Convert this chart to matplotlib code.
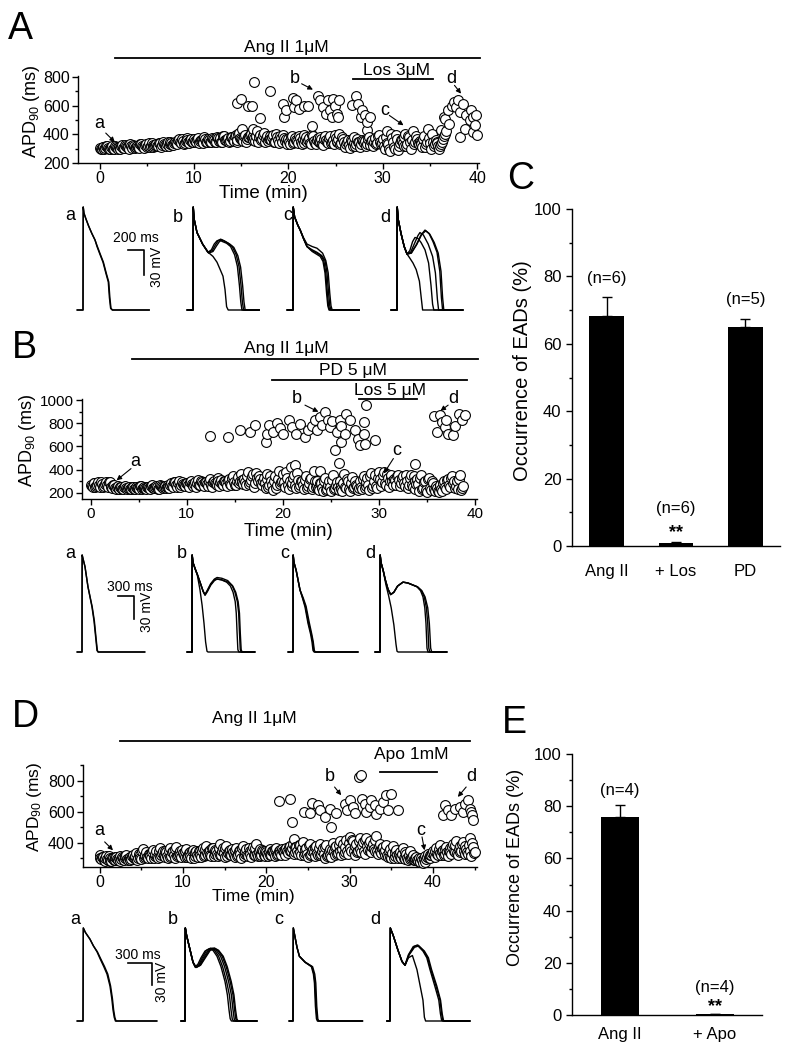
import matplotlib
matplotlib.use('Agg')
import matplotlib.pyplot as plt
from matplotlib.ticker import MultipleLocator

plt.rcParams['font.family'] = ['Liberation Sans', 'DejaVu Sans']
plt.rcParams['mathtext.fontset'] = 'custom'
plt.rcParams['mathtext.rm'] = 'Liberation Sans'
plt.rcParams['mathtext.it'] = 'Liberation Sans:italic'
plt.rcParams['mathtext.bf'] = 'Liberation Sans:bold'

# ---------------- data ----------------
# beat times (min) of the low-APD band, shared by the three recordings
beat_t = [
    0.0, 0.2, 0.4, 0.6, 0.8, 1.0, 1.2, 1.4, 1.6, 1.8,
    2.0, 2.2, 2.4, 2.6, 2.8, 3.0, 3.2, 3.4, 3.6, 3.8,
    4.0, 4.2, 4.4, 4.6, 4.8, 5.0, 5.2, 5.4, 5.6, 5.8,
    6.0, 6.2, 6.4, 6.6, 6.8, 7.0, 7.2, 7.4, 7.6, 7.8,
    8.0, 8.2, 8.4, 8.6, 8.8, 9.0, 9.2, 9.4, 9.6, 9.8,
    10.0, 10.2, 10.4, 10.6, 10.8, 11.0, 11.2, 11.4, 11.6, 11.8,
    12.0, 12.2, 12.4, 12.6, 12.8, 13.0, 13.2, 13.4, 13.6, 13.8,
    14.0, 14.2, 14.4, 14.6, 14.8, 15.0, 15.2, 15.4, 15.6, 15.8,
    16.0, 16.2, 16.4, 16.6, 16.8, 17.0, 17.2, 17.4, 17.6, 17.8,
    18.0, 18.2, 18.4, 18.6, 18.8, 19.0, 19.2, 19.4, 19.6, 19.8,
    20.0, 20.2, 20.4, 20.6, 20.8, 21.0, 21.2, 21.4, 21.6, 21.8,
    22.0, 22.2, 22.4, 22.6, 22.8, 23.0, 23.2, 23.4, 23.6, 23.8,
    24.0, 24.2, 24.4, 24.6, 24.8, 25.0, 25.2, 25.4, 25.6, 25.8,
    26.0, 26.2, 26.4, 26.6, 26.8, 27.0, 27.2, 27.4, 27.6, 27.8,
    28.0, 28.2, 28.4, 28.6, 28.8, 29.0, 29.2, 29.4, 29.6, 29.8,
    30.0, 30.2, 30.4, 30.6, 30.8, 31.0, 31.2, 31.4, 31.6, 31.8,
    32.0, 32.2, 32.4, 32.6, 32.8, 33.0, 33.2, 33.4, 33.6, 33.8,
    34.0, 34.2, 34.4, 34.6, 34.8, 35.0, 35.2, 35.4, 35.6, 35.8,
    36.0, 36.2, 36.4, 36.6, 36.8, 37.0, 37.2, 37.4, 37.6, 37.8,
    38.0, 38.2, 38.4, 38.6, 38.8, 39.0, 39.2, 39.4, 39.6, 39.8,
    40.0, 40.2, 40.4, 40.6, 40.8, 41.0, 41.2, 41.4, 41.6, 41.8,
    42.0, 42.2, 42.4, 42.6, 42.8, 43.0, 43.2, 43.4, 43.6, 43.8,
    44.0, 44.2, 44.4, 44.6, 44.8, 45.0,
]
# the beats in between
beat_t2 = [
    0.1, 0.3, 0.5, 0.7, 0.9, 1.1, 1.3, 1.5, 1.7, 1.9,
    2.1, 2.3, 2.5, 2.7, 2.9, 3.1, 3.3, 3.5, 3.7, 3.9,
    4.1, 4.3, 4.5, 4.7, 4.9, 5.1, 5.3, 5.5, 5.7, 5.9,
    6.1, 6.3, 6.5, 6.7, 6.9, 7.1, 7.3, 7.5, 7.7, 7.9,
    8.1, 8.3, 8.5, 8.7, 8.9, 9.1, 9.3, 9.5, 9.7, 9.9,
    10.1, 10.3, 10.5, 10.7, 10.9, 11.1, 11.3, 11.5, 11.7, 11.9,
    12.1, 12.3, 12.5, 12.7, 12.9, 13.1, 13.3, 13.5, 13.7, 13.9,
    14.1, 14.3, 14.5, 14.7, 14.9, 15.1, 15.3, 15.5, 15.7, 15.9,
    16.1, 16.3, 16.5, 16.7, 16.9, 17.1, 17.3, 17.5, 17.7, 17.9,
    18.1, 18.3, 18.5, 18.7, 18.9, 19.1, 19.3, 19.5, 19.7, 19.9,
    20.1, 20.3, 20.5, 20.7, 20.9, 21.1, 21.3, 21.5, 21.7, 21.9,
    22.1, 22.3, 22.5, 22.7, 22.9, 23.1, 23.3, 23.5, 23.7, 23.9,
    24.1, 24.3, 24.5, 24.7, 24.9, 25.1, 25.3, 25.5, 25.7, 25.9,
    26.1, 26.3, 26.5, 26.7, 26.9, 27.1, 27.3, 27.5, 27.7, 27.9,
    28.1, 28.3, 28.5, 28.7, 28.9, 29.1, 29.3, 29.5, 29.7, 29.9,
    30.1, 30.3, 30.5, 30.7, 30.9, 31.1, 31.3, 31.5, 31.7, 31.9,
    32.1, 32.3, 32.5, 32.7, 32.9, 33.1, 33.3, 33.5, 33.7, 33.9,
    34.1, 34.3, 34.5, 34.7, 34.9, 35.1, 35.3, 35.5, 35.7, 35.9,
    36.1, 36.3, 36.5, 36.7, 36.9, 37.1, 37.3, 37.5, 37.7, 37.9,
    38.1, 38.3, 38.5, 38.7, 38.9, 39.1, 39.3, 39.5, 39.7, 39.9,
    40.1, 40.3, 40.5, 40.7, 40.9, 41.1, 41.3, 41.5, 41.7, 41.9,
    42.1, 42.3, 42.5, 42.7, 42.9, 43.1, 43.3, 43.5, 43.7, 43.9,
    44.1, 44.3, 44.5, 44.7, 44.9,
]

# Panel A: APD90 (ms)
A_low_y = [
    305, 298, 315, 302, 320, 300, 310, 296, 318, 305,
    312, 300, 325, 308, 318, 315, 330, 305, 322, 312,
    320, 308, 335, 315, 325, 312, 338, 318, 328, 322,
    330, 318, 342, 325, 335, 320, 345, 330, 340, 328,
    350, 335, 365, 342, 355, 338, 372, 348, 360, 345,
    365, 345, 375, 352, 362, 340, 370, 350, 358, 348,
    368, 350, 380, 355, 372, 345, 385, 358, 375, 352,
    380, 355, 395, 362, 410, 370, 352, 392, 365, 380,
    400, 360, 372, 385, 350, 395, 368, 410, 375, 355,
    388, 362, 395, 350, 380, 340, 372, 392, 355, 345,
    370, 335, 385, 350, 362, 340, 375, 330, 395, 358,
    345, 372, 330, 385, 340, 362, 350, 378, 335, 370,
    360, 338, 385, 350, 330, 372, 355, 400, 340, 365,
    310, 345, 325, 360, 320, 378, 335, 350, 315, 362,
    340, 322, 368, 335, 355, 318, 372, 340, 395, 330,
    365, 300, 420, 330, 285, 375, 310, 395, 290, 340,
    360, 320, 405, 335, 380, 300, 420, 345, 365, 330,
    350, 310, 385, 330, 440, 340, 400, 320, 360, 340,
    300, 330, 370, 400,
]
A_low2_y = [
    300, 312, 295, 318, 305, 298, 322, 300, 310, 295,
    305, 318, 302, 328, 310, 300, 318, 325, 306, 315,
    312, 330, 318, 305, 332, 320, 310, 340, 315, 325,
    322, 338, 315, 345, 328, 335, 318, 350, 325, 338,
    340, 358, 345, 368, 335, 352, 362, 340, 370, 350,
    352, 370, 340, 362, 355, 378, 345, 365, 350, 372,
    358, 345, 375, 362, 350, 388, 360, 370, 348, 380,
    362, 385, 350, 400, 372, 358, 390, 345, 378, 395,
    372, 390, 355, 420, 380, 362, 398, 350, 385, 370,
    365, 380, 348, 400, 360, 390, 350, 375, 365, 335,
    350, 380, 340, 372, 355, 390, 345, 365, 340, 380,
    360, 340, 395, 352, 330, 375, 345, 365, 325, 385,
    350, 372, 340, 360, 395, 345, 368, 330, 378, 350,
    330, 360, 305, 352, 340, 320, 365, 345, 330, 355,
    355, 335, 380, 325, 362, 345, 330, 385, 350, 340,
    320, 380, 340, 300, 400, 350, 300, 370, 320, 360,
    340, 380, 320, 390, 350, 360, 330, 390, 340, 355,
    330, 370, 315, 345, 375, 300, 350, 330, 345, 320,
    320, 350, 390, 420,
]
A_hi_t = [14.6, 15.0, 15.7, 16.1, 16.4, 17.0, 16.3, 15.1, 18.1, 19.4,
          19.7, 19.5, 20.5, 20.6, 20.8, 21.1, 21.7, 22.1, 22.5, 23.1,
          23.3, 23.7, 24.0, 24.2, 24.4, 24.6, 24.7, 24.9, 25.2, 25.4,
          25.3, 26.7, 27.2, 27.4, 27.8, 28.1, 28.3, 28.3, 28.7, 27.7,
          36.2, 36.6, 36.9, 37.3, 37.5, 37.8, 38.0, 38.2, 38.5, 38.8,
          38.7, 38.2, 39.2, 39.4, 39.6, 39.8, 39.9, 40.0, 39.6, 37.0, 36.5]
A_hi_y = [619, 646, 595, 595, 765, 516, 440, 440, 702, 609,
          572, 521, 656, 591, 637, 579, 598, 595, 456, 670,
          637, 591, 544, 637, 568, 521, 649, 595, 544, 637,
          521, 602, 665, 614, 567, 533, 486, 428, 521, 521,
          430, 509, 567, 595, 626, 591, 637, 556, 614, 533,
          440, 381, 498, 567, 521, 463, 533, 393, 416, 470, 520]

# Panel B
B_low_y = [
    265, 250, 285, 258, 290, 245, 272, 260, 288, 252,
    295, 240, 270, 232, 255, 228, 248, 235, 258, 230,
    245, 228, 252, 235, 240, 230, 258, 238, 248, 232,
    250, 235, 262, 240, 255, 232, 265, 245, 250, 238,
    265, 242, 280, 250, 290, 248, 305, 262, 275, 255,
    285, 250, 300, 262, 278, 245, 310, 268, 292, 255,
    295, 260, 318, 248, 305, 275, 330, 258, 312, 270,
    300, 255, 320, 270, 345, 262, 305, 280, 360, 290,
    320, 262, 380, 290, 340, 252, 370, 300, 315, 270,
    330, 240, 360, 270, 300, 225, 345, 265, 385, 290,
    360, 250, 330, 230, 420, 280, 350, 238, 310, 265,
    300, 228, 345, 260, 320, 235, 390, 250, 300, 220,
    280, 210, 325, 235, 305, 215, 350, 240, 290, 222,
    260, 215, 360, 240, 300, 218, 335, 250, 270, 225,
    300, 230, 345, 255, 330, 220, 370, 260, 355, 240,
    375, 260, 350, 280, 365, 250, 340, 300, 320, 268,
    355, 255, 330, 280, 350, 240, 325, 265, 345, 230,
    320, 215, 350, 240, 300, 205, 330, 225, 280, 210,
    240, 205, 270, 215, 300, 230, 320, 250, 345, 300, 260, 230, 350, 240,
]
B_low2_y = [
    255, 280, 245, 270, 262, 295, 250, 275, 265, 290,
    248, 265, 238, 250, 235, 245, 230, 252, 238, 242,
    235, 250, 230, 245, 238, 255, 232, 242, 236, 250,
    242, 255, 238, 250, 245, 235, 255, 242, 258, 245,
    252, 270, 258, 295, 262, 280, 250, 290, 268, 282,
    262, 290, 272, 255, 295, 280, 262, 300, 275, 290,
    272, 300, 265, 290, 285, 262, 305, 290, 278, 300,
    285, 310, 275, 330, 290, 270, 335, 300, 310, 275,
    295, 340, 275, 310, 360, 285, 325, 345, 280, 300,
    280, 315, 250, 340, 265, 300, 240, 320, 275, 305,
    290, 380, 265, 300, 255, 325, 270, 370, 250, 300,
    270, 310, 240, 285, 330, 250, 300, 265, 235, 280,
    240, 300, 225, 270, 250, 310, 228, 265, 245, 300,
    230, 280, 250, 320, 235, 285, 240, 300, 260, 240,
    250, 320, 240, 295, 265, 345, 240, 300, 255, 330,
    320, 290, 380, 270, 330, 300, 355, 270, 310, 345,
    310, 280, 340, 260, 300, 270, 355, 245, 300, 275,
    275, 330, 230, 290, 220, 315, 240, 300, 230, 255,
    215, 255, 230, 285, 245, 310, 265, 330, 280, 240, 300, 320, 225, 260,
]
B_hi_t = [12.4, 14.3, 15.5, 16.6, 17.1, 18.2, 18.3, 18.6, 19.0, 19.4,
          19.7, 20.0, 20.6, 21.0, 21.4, 21.8, 22.3, 22.6, 23.0, 23.3,
          23.5, 23.9, 24.1, 24.4, 24.7, 24.9, 25.1, 25.4, 25.6, 25.9,
          26.1, 26.5, 26.6, 27.0, 26.0, 27.5, 27.8, 28.0, 28.4, 28.4,
          28.7, 28.5, 29.6, 35.7, 36.0, 36.4, 36.6, 36.9, 37.2, 37.7,
          37.9, 38.3, 38.6, 38.9, 37.0, 25.8, 33.8, 21.3, 23.9]
B_hi_y = [688, 677, 740, 726, 783, 639, 703, 783, 726, 804,
          760, 711, 827, 769, 705, 792, 682, 740, 775, 827,
          740, 856, 783, 899, 827, 769, 818, 567, 726, 827,
          775, 705, 879, 827, 639, 746, 668, 610, 812, 711,
          957, 624, 653, 864, 726, 870, 812, 769, 711, 697,
          778, 879, 827, 870, 827, 460, 451, 437, 388]

# Panel D
D_low_y = [
    320, 295, 310, 285, 318, 292, 305, 282, 300, 290,
    310, 288, 318, 295, 305, 300, 322, 292, 312, 298,
    325, 300, 335, 305, 320, 298, 360, 310, 340, 305,
    330, 302, 355, 315, 345, 300, 365, 320, 350, 310,
    340, 305, 365, 318, 350, 300, 375, 320, 345, 310,
    335, 308, 360, 318, 340, 305, 355, 315, 348, 312,
    345, 310, 365, 320, 380, 325, 355, 315, 370, 330,
    350, 318, 395, 325, 365, 310, 380, 335, 355, 320,
    340, 312, 370, 325, 355, 305, 380, 330, 360, 318,
    345, 310, 375, 320, 395, 315, 360, 325, 350, 318,
    340, 315, 360, 325, 350, 318, 370, 330, 355, 320,
    345, 325, 365, 335, 380, 350, 395, 340, 375, 330,
    390, 320, 405, 335, 370, 310, 395, 330, 360, 315,
    380, 320, 395, 330, 370, 305, 385, 325, 360, 310,
    400, 320, 380, 335, 410, 325, 395, 340, 420, 330,
    440, 345, 410, 325, 395, 350, 430, 340, 405, 330,
    430, 355, 415, 340, 395, 345, 445, 330, 395, 335,
    375, 320, 390, 310, 360, 300, 380, 315, 355, 305,
    340, 300, 365, 295, 330, 290, 350, 300, 325, 292,
    310, 285, 280, 300, 270, 315, 295, 330, 305, 320,
    345, 310, 365, 325, 390, 320, 355, 330, 375, 315,
    365, 330, 395, 340, 410, 320, 380, 345, 405, 330,
    360, 330, 430, 315, 375, 340,
]
D_low2_y = [
    300, 310, 288, 305, 295, 315, 285, 300, 292, 308,
    295, 305, 285, 310, 292, 315, 298, 305, 290, 318,
    305, 318, 292, 330, 302, 345, 300, 325, 312, 330,
    315, 340, 305, 330, 312, 350, 308, 335, 318, 345,
    318, 350, 310, 340, 325, 360, 315, 335, 320, 355,
    320, 345, 312, 338, 318, 350, 305, 340, 322, 345,
    325, 350, 315, 360, 335, 345, 322, 368, 318, 355,
    330, 365, 320, 345, 335, 370, 318, 350, 325, 360,
    325, 355, 318, 345, 330, 365, 315, 345, 325, 370,
    330, 355, 320, 365, 330, 345, 318, 355, 325, 345,
    328, 350, 320, 345, 335, 360, 322, 350, 335, 360,
    340, 360, 350, 375, 345, 365, 330, 372, 350, 390,
    340, 370, 325, 360, 330, 385, 320, 350, 340, 375,
    335, 365, 320, 350, 330, 372, 315, 345, 325, 355,
    345, 372, 330, 390, 345, 360, 330, 375, 350, 400,
    370, 420, 350, 380, 340, 410, 360, 385, 350, 420,
    380, 400, 350, 375, 360, 420, 345, 380, 350, 370,
    340, 355, 320, 345, 310, 335, 300, 340, 320, 330,
    310, 330, 300, 340, 305, 320, 295, 310, 290, 305,
    290, 300, 275, 290, 305, 280, 310, 300, 320, 335,
    320, 350, 330, 360, 335, 345, 325, 360, 340, 350,
    340, 375, 350, 385, 335, 360, 340, 395, 350, 380,
    340, 385, 345, 400, 335,
]
D_hi_t = [21.5, 22.8, 23.1, 24.5, 25.2, 25.5, 26.2, 26.5, 27.0, 27.6,
          27.8, 28.4, 29.4, 29.7, 30.0, 30.4, 30.6, 31.1, 31.4, 31.5,
          31.8, 32.0, 32.4, 32.6, 33.0, 33.2, 33.6, 34.0, 34.4, 34.6,
          35.0, 35.8, 41.2, 41.4, 41.8, 42.2, 42.6, 43.2, 43.8, 43.6,
          44.2, 44.4, 44.6, 44.8, 44.7, 23.3]
D_hi_y = [669, 686, 536, 600, 594, 660, 643, 611, 568, 622,
          503, 594, 649, 611, 675, 632, 594, 826, 837, 686,
          654, 600, 632, 675, 643, 589, 622, 665, 708, 611,
          718, 611, 579, 643, 611, 579, 622, 632, 654, 600,
          675, 622, 600, 546, 578, 428]

# drug application periods (min)
A_angii = [1.6, 40.3]
A_los = [26.8, 35.3]
B_angii = [4.3, 40.3]
B_pd = [18.9, 39.2]
B_los = [27.9, 34.0]
D_angii = [2.5, 44.5]
D_apo = [33.7, 40.5]

# EAD occurrence (%)
C_labels = ['Ang II', '+ Los', 'PD']
C_vals = [68.2, 0.8, 65.0]
C_err = [5.8, 0.3, 2.5]
C_n = ['(n=6)', '(n=6)', '(n=5)']
C_sig = ['', '**', '']
E_labels = ['Ang II', '+ Apo']
E_vals = [76.0, 0.3]
E_err = [4.5, 0.2]
E_n = ['(n=4)', '(n=4)']
E_sig = ['', '**']

# action potentials: (time from upstroke in ms, membrane potential in mV)
ap_A_a = [
    ([-75, 0, 3, 12, 35, 70, 110, 150, 175, 210, 250, 285, 316, 330, 345, 365, 830],
     [-85, -85, 40, 32, 26, 17, 8, 0, -8, -17, -27, -40, -51, -70, -83, -85, -85]),
    ([-75, 0, 3, 12, 35, 70, 110, 150, 180, 215, 255, 290, 322, 336, 350, 370, 830],
     [-85, -85, 40, 33, 26, 17, 8, 0, -8, -17, -27, -40, -51, -70, -83, -85, -85]),
]
ap_A_b = [
    ([-75, 0, 3, 15, 50, 120, 190, 250, 300, 340, 375, 400, 420, 440, 830],
     [-85, -85, 40, 25, 9, -5, -15, -20, -27, -36, -44, -60, -81, -85, -85]),
    ([-75, 0, 3, 15, 50, 120, 185, 230, 265, 300, 330, 370, 420, 470, 520, 555, 580, 597, 612, 830],
     [-85, -85, 40, 25, 9, -5, -15, -12, -5, -1, 0, -2, -4, -8, -18, -32, -55, -75, -85, -85]),
    ([-75, 0, 3, 15, 50, 120, 190, 240, 280, 315, 345, 390, 440, 490, 540, 575, 600, 617, 632, 830],
     [-85, -85, 40, 25, 9, -5, -15, -13, -6, -1, 1, -1, -4, -8, -18, -32, -55, -75, -85, -85]),
    ([-75, 0, 3, 15, 50, 120, 195, 250, 295, 330, 360, 405, 460, 510, 560, 595, 620, 637, 652, 830],
     [-85, -85, 40, 25, 9, -5, -16, -14, -7, -2, 0, -2, -5, -9, -19, -33, -55, -75, -85, -85]),
]
ap_A_c = [
    ([-75, 0, 3, 20, 60, 90, 130, 175, 240, 300, 350, 385, 410, 430, 445, 460, 830],
     [-85, -85, 40, 28, 18, 12, 2, -8, -13, -16, -19, -25, -40, -65, -80, -85, -85]),
    ([-75, 0, 3, 20, 60, 90, 130, 175, 240, 300, 360, 400, 425, 445, 460, 475, 830],
     [-85, -85, 40, 28, 18, 12, 2, -8, -12, -15, -19, -25, -40, -65, -80, -85, -85]),
    ([-75, 0, 3, 20, 60, 90, 130, 175, 240, 300, 370, 410, 440, 460, 475, 490, 830],
     [-85, -85, 40, 28, 18, 12, 3, -5, -8, -10, -16, -25, -40, -65, -80, -85, -85]),
    ([-75, 0, 3, 20, 60, 90, 130, 175, 240, 290, 340, 375, 400, 420, 435, 450, 830],
     [-85, -85, 40, 28, 18, 12, 2, -8, -14, -17, -20, -26, -40, -65, -80, -85, -85]),
]
ap_A_d = [
    ([-75, 0, 3, 15, 50, 90, 125, 160, 200, 240, 280, 305, 320, 825],
     [-85, -85, 40, 25, 8, -8, -17, -22, -28, -36, -50, -72, -85, -85]),
    ([-75, 0, 3, 15, 50, 90, 125, 160, 195, 225, 260, 300, 350, 395, 425, 445, 460, 825],
     [-85, -85, 40, 25, 8, -8, -17, -13, -2, 3, 2, -3, -12, -28, -55, -78, -85, -85]),
    ([-75, 0, 3, 15, 50, 90, 125, 170, 220, 260, 287, 330, 390, 445, 480, 505, 520, 825],
     [-85, -85, 40, 25, 8, -8, -17, -15, -4, 5, 9, 6, -5, -20, -40, -72, -85, -85]),
    ([-75, 0, 3, 15, 50, 90, 125, 175, 240, 300, 350, 400, 450, 500, 535, 555, 570, 825],
     [-85, -85, 40, 25, 8, -8, -17, -16, -6, 6, 12, 8, -2, -15, -38, -70, -85, -85]),
    ([-75, 0, 3, 15, 50, 90, 125, 180, 250, 310, 360, 410, 465, 515, 550, 570, 585, 825],
     [-85, -85, 40, 25, 8, -8, -17, -16, -5, 7, 11, 7, -3, -16, -38, -70, -85, -85]),
]
ap_B_a = [
    ([-94, 0, 3, 20, 56, 112, 187, 225, 262, 281, 300, 1180],
     [-85, -85, 40, 35, 25, -1, -27, -45, -70, -83, -85, -85]),
    ([-94, 0, 3, 20, 56, 112, 192, 232, 268, 288, 306, 1180],
     [-85, -85, 40, 35, 25, -1, -27, -45, -70, -83, -85, -85]),
]
ap_B_b = [
    ([-94, 0, 3, 20, 60, 100, 150, 190, 225, 255, 281, 300, 1180],
     [-85, -85, 40, 30, 22, 14, -5, -25, -48, -72, -84, -85, -85]),
    ([-94, 0, 3, 20, 60, 100, 160, 210, 244, 290, 350, 420, 470, 550, 650, 720, 770, 810, 830, 845, 860, 880, 1180],
     [-85, -85, 40, 30, 22, 15, 3, -7, -11, -6, 2, 8, 9, 8, 5, 0, -8, -20, -35, -60, -82, -85, -85]),
    ([-94, 0, 3, 20, 60, 100, 160, 210, 244, 290, 350, 420, 470, 560, 670, 750, 805, 850, 875, 890, 905, 925, 1180],
     [-85, -85, 40, 30, 22, 15, 3, -7, -11, -5, 3, 9, 11, 10, 7, 1, -8, -20, -35, -60, -82, -85, -85]),
    ([-94, 0, 3, 20, 60, 100, 160, 210, 244, 290, 350, 420, 470, 560, 680, 765, 820, 865, 890, 905, 922, 940, 1180],
     [-85, -85, 40, 30, 22, 15, 3, -7, -12, -7, 1, 7, 9, 8, 5, 0, -8, -20, -35, -60, -82, -85, -85]),
]
ap_B_c = [
    ([-94, 0, 3, 20, 60, 131, 180, 225, 281, 330, 356, 375, 395, 1220],
     [-85, -85, 40, 30, 20, -5, -16, -27, -48, -62, -72, -83, -85, -85]),
    ([-94, 0, 3, 20, 60, 131, 185, 235, 292, 342, 370, 390, 410, 1220],
     [-85, -85, 40, 30, 20, -5, -16, -27, -48, -62, -72, -83, -85, -85]),
    ([-94, 0, 3, 20, 60, 131, 190, 245, 305, 352, 380, 400, 420, 1220],
     [-85, -85, 40, 30, 20, -5, -15, -26, -47, -62, -72, -83, -85, -85]),
]
ap_B_d = [
    ([-94, 0, 3, 20, 60, 110, 160, 210, 260, 300, 319, 340, 1255],
     [-85, -85, 40, 30, 20, 2, -12, -28, -50, -75, -84, -85, -85]),
    ([-94, 0, 3, 20, 60, 100, 150, 200, 260, 330, 431, 520, 694, 760, 806, 840, 862, 881, 900, 1255],
     [-85, -85, 40, 30, 20, 8, -4, -11, -8, 0, 5, 4, -1, -6, -14, -28, -48, -80, -85, -85]),
    ([-94, 0, 3, 20, 60, 100, 150, 200, 260, 330, 431, 520, 700, 775, 830, 870, 895, 915, 935, 1255],
     [-85, -85, 40, 30, 20, 8, -4, -11, -8, 0, 5, 4, -1, -6, -14, -28, -48, -80, -85, -85]),
    ([-94, 0, 3, 20, 60, 100, 150, 200, 260, 330, 431, 520, 705, 785, 845, 895, 925, 950, 970, 1255],
     [-85, -85, 40, 30, 20, 8, -4, -11, -8, 0, 5, 4, -1, -6, -14, -28, -48, -80, -85, -85]),
]
ap_D_a = [
    ([-75, 0, 4, 30, 87, 130, 175, 212, 260, 300, 337, 360, 375, 390, 405, 925],
     [-85, -85, 40, 34, 25, 16, 8, -1, -12, -22, -38, -55, -70, -80, -85, -85]),
    ([-75, 0, 4, 30, 87, 130, 180, 220, 270, 310, 345, 368, 383, 398, 413, 925],
     [-85, -85, 40, 34, 25, 16, 8, -1, -12, -22, -38, -55, -70, -80, -85, -85]),
]
ap_D_b = [
    ([-50, 0, 4, 20, 60, 100, 125, 160, 200, 250, 300, 350, 400, 450, 500, 530, 550, 565, 580, 900],
     [-85, -85, 40, 30, 12, -6, -12, -9, 0, 9, 12, 10, 2, -12, -32, -50, -70, -82, -85, -85]),
    ([-50, 0, 4, 20, 60, 100, 130, 170, 215, 270, 320, 370, 420, 470, 520, 555, 575, 590, 605, 900],
     [-85, -85, 40, 30, 12, -6, -13, -10, 0, 10, 13, 10, 2, -12, -32, -50, -70, -82, -85, -85]),
    ([-50, 0, 4, 20, 60, 100, 135, 180, 230, 290, 340, 390, 445, 495, 545, 580, 600, 615, 630, 900],
     [-85, -85, 40, 30, 12, -6, -13, -10, 0, 10, 13, 10, 2, -12, -32, -50, -70, -82, -85, -85]),
    ([-50, 0, 4, 20, 60, 100, 140, 190, 245, 305, 360, 410, 465, 515, 565, 600, 620, 635, 650, 900],
     [-85, -85, 40, 30, 12, -6, -13, -10, 0, 10, 13, 10, 2, -12, -32, -50, -70, -82, -85, -85]),
    ([-50, 0, 4, 20, 60, 100, 140, 195, 255, 315, 370, 420, 478, 528, 578, 612, 632, 648, 663, 900],
     [-85, -85, 40, 30, 12, -6, -13, -10, 0, 10, 13, 10, 2, -12, -32, -50, -70, -82, -85, -85]),
]
ap_D_c = [
    ([-50, 0, 4, 25, 50, 80, 150, 237, 262, 275, 287, 300, 312, 870],
     [-85, -85, 40, 28, 14, 2, -6, -12, -22, -34, -65, -82, -85, -85]),
    ([-50, 0, 4, 25, 50, 80, 155, 245, 272, 285, 297, 310, 322, 870],
     [-85, -85, 40, 28, 14, 2, -6, -12, -22, -34, -65, -82, -85, -85]),
    ([-50, 0, 4, 25, 50, 80, 150, 230, 255, 268, 280, 293, 305, 870],
     [-85, -85, 40, 28, 14, 2, -6, -12, -22, -34, -65, -82, -85, -85]),
]
ap_D_d = [
    ([-40, 0, 4, 40, 100, 150, 187, 230, 280, 337, 390, 412, 430, 445, 1000],
     [-85, -85, 40, 30, 10, -5, -10, 0, 3, -16, -45, -57, -80, -85, -85]),
    ([-40, 0, 4, 40, 100, 150, 187, 230, 290, 340, 412, 460, 500, 560, 610, 630, 645, 660, 1000],
     [-85, -85, 40, 30, 10, -5, -10, 4, 15, 17, 9, 0, -16, -38, -57, -75, -84, -85, -85]),
    ([-40, 0, 4, 40, 100, 150, 187, 235, 300, 350, 420, 470, 510, 575, 625, 645, 660, 675, 1000],
     [-85, -85, 40, 30, 10, -5, -10, 4, 15, 17, 9, 0, -16, -38, -57, -75, -84, -85, -85]),
    ([-40, 0, 4, 40, 100, 150, 190, 240, 305, 360, 430, 480, 520, 585, 632, 652, 668, 683, 1000],
     [-85, -85, 40, 30, 10, -5, -10, 4, 14, 16, 9, 0, -16, -38, -57, -75, -84, -85, -85]),
]

# ---------------- figure ----------------
W, H = 788, 1050
fig = plt.figure(figsize=(W / 100, H / 100), dpi=100)


def px_axes(l, t, r, b):
    return fig.add_axes([l / W, 1 - b / H, (r - l) / W, (b - t) / H])


def fig_text(x, y, s, **kw):
    fig.text(x / W, 1 - y / H, s, **kw)


def scatter_panel(ax, low_y, low2_y, hi_t, hi_y, xlim, ylim, yticks, tsize):
    pts = sorted(list(zip(beat_t, low_y)) + list(zip(beat_t2, low2_y)) +
                 list(zip(hi_t, hi_y)))
    ax.scatter([p[0] for p in pts], [p[1] for p in pts], s=50, facecolors='white',
               edgecolors='k', linewidths=0.8, zorder=3, clip_on=False)
    ax.set_xlim(*xlim)
    ax.set_ylim(*ylim)
    ax.set_yticks(yticks)
    ax.set_xticks([0, 10, 20, 30, 40])
    ax.xaxis.set_minor_locator(MultipleLocator(5))
    ax.yaxis.set_minor_locator(MultipleLocator(100))
    for sk in ['top', 'right']:
        ax.spines[sk].set_visible(False)
    for sk in ['left', 'bottom']:
        ax.spines[sk].set_linewidth(1.0)
    ax.tick_params(which='both', direction='out', width=1.0, labelsize=tsize, pad=2)
    ax.tick_params(which='major', length=4)
    ax.tick_params(which='minor', length=2.5)


def drug_bar(ax, span, yfrac, label, tx, ty):
    ax.plot(span, [yfrac, yfrac], color='k', lw=1.3, transform=ax.get_xaxis_transform(),
            clip_on=False)
    ax.text(tx, ty, label, transform=ax.get_xaxis_transform(), ha='center', va='center',
            fontsize=12.5)


def mark(ax, letter, txy, tail, head):
    ax.text(txy[0], txy[1], letter, ha='center', va='center', fontsize=13)
    ax.annotate('', xy=head, xytext=tail,
                arrowprops=dict(arrowstyle='-|>', color='k', lw=0.8, mutation_scale=7,
                                shrinkA=0, shrinkB=0))


def trace_row(box, ms_per_px, base_px, peak_px, offsets, groups, labels, bar):
    l, t, r, b = box
    mv_per_px = 125 / (base_px - peak_px)
    ax = px_axes(l, t, r, b)
    ax.set_xlim(0, (r - l) * ms_per_px)
    ax.set_ylim(-85 - (b - base_px) * mv_per_px, 40 + (peak_px - t) * mv_per_px)
    ax.axis('off')
    for off, grp in zip(offsets, groups):
        for tt, vv in grp:
            ax.plot([x + off for x in tt], vv, color='k', lw=1.0,
                    solid_joinstyle='round', solid_capstyle='round')
    for lab, (x, y) in zip('abcd', labels):
        fig_text(x, y, lab, ha='center', va='center', fontsize=13)
    # scale bar: corner (ms, mV), length (ms), text and positions
    cx, cy, dur, tlab, tpos, vpos = bar
    ax.plot([cx - dur, cx, cx], [cy, cy, cy - 30], color='k', lw=1.2)
    ax.text(tpos[0], tpos[1], tlab, ha='center', va='center', fontsize=10)
    ax.text(vpos[0], vpos[1], '30 mV', ha='center', va='center', fontsize=10,
            rotation=90)
    return ax


def bar_panel(ax, labels, vals, err, nlab, sig, xlim, width, pad):
    x = [i + 0.5 for i in range(len(vals))]
    ax.bar(x, vals, width=width, color='k', zorder=2)
    ax.errorbar(x, vals, yerr=[[0] * len(vals), err], fmt='none', ecolor='k',
                elinewidth=1.0, capsize=3.5, capthick=1.0, zorder=3)
    for xi, v, e, n, s in zip(x, vals, err, nlab, sig):
        top = v + e
        if s:
            ax.text(xi, top + 2.8, s, ha='center', va='center', fontsize=13,
                    fontweight='bold')
            ax.text(xi, top + 10, n, ha='center', va='center', fontsize=12)
        else:
            ax.text(xi, top + 5.5, n, ha='center', va='center', fontsize=12)
    ax.set_xlim(*xlim)
    ax.set_ylim(0, 100)
    ax.set_yticks([0, 20, 40, 60, 80, 100])
    ax.yaxis.set_minor_locator(MultipleLocator(10))
    ax.set_xticks(x, labels)
    for sk in ['top', 'right']:
        ax.spines[sk].set_visible(False)
    for sk in ['left', 'bottom']:
        ax.spines[sk].set_linewidth(1.0)
    ax.tick_params(axis='y', which='both', direction='out', width=1.0, labelsize=12)
    ax.tick_params(axis='y', which='major', length=4)
    ax.tick_params(axis='y', which='minor', length=2.5)
    ax.tick_params(axis='x', length=0, labelsize=12, pad=pad)


apd_label = r'APD$_{90}$ (ms)'

# ---- Panel A ----
axA = px_axes(78, 75.6, 479, 163)
scatter_panel(axA, A_low_y, A_low2_y, A_hi_t, A_hi_y, (-2.3, 40.2), (200, 810),
              [200, 400, 600, 800], 11.5)
drug_bar(axA, A_angii, 1.201, 'Ang II 1\u03bcM', 19.8, 1.327)
drug_bar(axA, A_los, 0.961, 'Los 3\u03bcM', 31.5, 1.053)
mark(axA, 'a', (0.0, 474), (0.64, 409), (1.6, 346))
mark(axA, 'b', (20.7, 788), (21.4, 753), (22.6, 712))
mark(axA, 'c', (30.2, 567), (30.7, 532), (32.2, 463))
mark(axA, 'd', (37.3, 788), (37.6, 742), (38.3, 684))
fig_text(32, 111, apd_label, rotation=90, ha='center', va='center', fontsize=13)
fig_text(263, 193, 'Time (min)', ha='center', va='center', fontsize=13.5)

trace_row((60, 195, 480, 320), 12.5, 310, 207, [287.5, 1662.5, 2912.5, 4212.5],
          [ap_A_a, ap_A_b, ap_A_c, ap_A_d],
          [(70, 216), (178, 217), (288, 216), (385, 217)],
          (1050, -12, 200, '200 ms', (950, 2.4), (1212, -32.8)))

# ---- Panel B ----
axB = px_axes(82, 399, 477, 499)
scatter_panel(axB, B_low_y, B_low2_y, B_hi_t, B_hi_y, (-0.9, 40.2), (145, 1010),
              [200, 400, 600, 800, 1000], 11)
drug_bar(axB, B_angii, 1.40, 'Ang II 1\u03bcM', 20.4, 1.50)
drug_bar(axB, B_pd, 1.19, 'PD 5 \u03bcM', 27.3, 1.29)
drug_bar(axB, B_los, 1.00, 'Los 5 \u03bcM', 31.1, 1.08)
mark(axB, 'a', (4.6, 466), (4.2, 408), (2.7, 307))
mark(axB, 'b', (21.4, 1014), (22.3, 957), (23.7, 899))
mark(axB, 'c', (31.8, 567), (31.5, 495), (30.5, 365))
mark(axB, 'd', (37.7, 1014), (37.2, 957), (36.4, 908))
fig_text(27, 440, apd_label, rotation=90, ha='center', va='center', fontsize=13)
fig_text(288, 532, 'Time (min)', ha='center', va='center', fontsize=13.5)

trace_row((60, 540, 480, 665), 18.75, 652, 555, [412.5, 2475, 4368.75, 6000],
          [ap_B_a, ap_B_b, ap_B_c, ap_B_d],
          [(70, 553), (182, 553), (285, 554), (370, 553)],
          (1387.5, -12.8, 300, '300 ms', (1312, -1.2), (1631, -33.4)))

# ---- Panel D ----
axD = px_axes(83, 765, 477, 867)
scatter_panel(axD, D_low_y, D_low2_y, D_hi_t, D_hi_y, (-2.0, 45.3), (245, 903),
              [400, 600, 800], 11.5)
drug_bar(axD, D_angii, 1.235, 'Ang II 1\u03bcM', 18.6, 1.46)
drug_bar(axD, D_apo, 0.93, 'Apo 1mM', 37.4, 1.10)
mark(axD, 'a', (0.0, 482), (0.6, 407), (1.6, 353))
mark(axD, 'b', (27.6, 826), (28.2, 761), (29.0, 708))
mark(axD, 'c', (38.6, 482), (38.7, 439), (39.0, 353))
mark(axD, 'd', (44.6, 826), (44.0, 761), (43.0, 697))
fig_text(35, 807, apd_label, rotation=90, ha='center', va='center', fontsize=12.5)
fig_text(253, 896, 'Time (min)', ha='center', va='center', fontsize=12.5)

trace_row((60, 910, 480, 1035), 12.5, 1021, 928, [287.5, 1562.5, 2912.5, 4125],
          [ap_D_a, ap_D_b, ap_D_c, ap_D_d],
          [(75, 920), (173, 920), (279, 920), (375, 920)],
          (1150, -7, 300, '300 ms', (975, 3.7), (1275, -32.6)))

# ---- Panel C ----
axC = px_axes(572, 209, 780, 546)
bar_panel(axC, C_labels, C_vals, C_err, C_n, C_sig, (0, 3.0), 0.5, 13)
fig_text(523, 371, 'Occurrence of EADs (%)', rotation=90, ha='center', va='center',
         fontsize=14.5)

# ---- Panel E ----
axE = px_axes(572, 754, 762, 1015)
bar_panel(axE, E_labels, E_vals, E_err, E_n, E_sig, (0, 2.0), 0.4, 9)
fig_text(515, 867, 'Occurrence of EADs (%)', rotation=90, ha='center', va='center',
         fontsize=13)

# panel letters
for lab, x, y in [('A', 8, 39), ('B', 12, 358), ('C', 507, 189), ('D', 12, 727),
                  ('E', 502, 733)]:
    fig_text(x, y, lab, ha='left', va='baseline', fontsize=27)

fig.savefig('out.png', dpi=100)
